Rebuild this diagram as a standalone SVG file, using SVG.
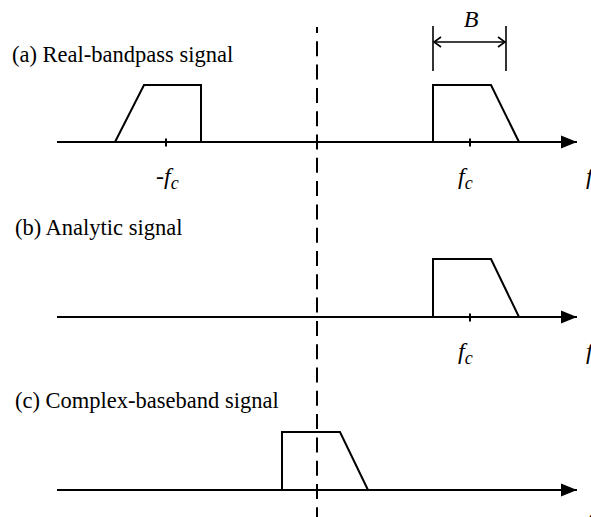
<svg xmlns="http://www.w3.org/2000/svg" width="591" height="517" viewBox="0 0 591 517">
<style>
.t{font-family:"Liberation Serif","Times New Roman",serif;font-size:22.5px;fill:#000}
.i{font-family:"Liberation Serif","Times New Roman",serif;font-style:italic;font-size:24px;fill:#000}
.s{font-size:18px}
.ln{stroke:#000;stroke-width:2;fill:none}
.thin{stroke:#000;stroke-width:1.6;fill:none}
.dash{stroke:#000;stroke-width:2;fill:none;stroke-dasharray:15 8.3;stroke-dashoffset:9}
</style>
<defs>
<marker id="ah" markerWidth="16" markerHeight="14" refX="16" refY="7" orient="auto" markerUnits="userSpaceOnUse">
<path d="M0,0.5 L16,7 L0,13.5 Z" fill="#000"/>
</marker>
<marker id="open" markerWidth="9" markerHeight="12" refX="8" refY="6" orient="auto-start-reverse" markerUnits="userSpaceOnUse">
<path d="M1,1 L8,6 L1,11" fill="none" stroke="#000" stroke-width="1.6"/>
</marker>
</defs>
<g id="connectors">
<line class="dash" x1="317" y1="27" x2="317" y2="517"/>
<line class="ln" x1="57" y1="142" x2="577" y2="142" marker-end="url(#ah)"/>
<line class="ln" x1="57" y1="317" x2="577" y2="317" marker-end="url(#ah)"/>
<line class="ln" x1="57" y1="490" x2="577" y2="490" marker-end="url(#ah)"/>
<line class="ln" x1="166" y1="138.5" x2="166" y2="146.5"/>
<line class="ln" x1="470" y1="138.5" x2="470" y2="146.5"/>
<line class="ln" x1="470" y1="313.5" x2="470" y2="321.5"/>
</g>
<g id="panel-a">
<text class="t" x="12" y="62">(a) Real-bandpass signal</text>
<polyline class="ln" points="115,142 144,85 201,85 201,142"/>
<polyline class="ln" points="433,142 433,85 491,85 519,142"/>
<text class="i" x="156" y="184">-f<tspan class="s" dy="5">c</tspan></text>
<text class="i" x="458" y="184">f<tspan class="s" dy="5">c</tspan></text>
<text class="i" x="586" y="184">f</text>
</g>
<g id="bandwidth">
<line class="thin" x1="433" y1="26" x2="433" y2="71"/>
<line class="thin" x1="506" y1="26" x2="506" y2="71"/>
<line class="thin" x1="434" y1="42" x2="505" y2="42" marker-start="url(#open)" marker-end="url(#open)"/>
<text class="i" x="471" y="27" text-anchor="middle">B</text>
</g>
<g id="panel-b">
<text class="t" x="15" y="235">(b) Analytic signal</text>
<polyline class="ln" points="433,317 433,259 491,259 519,317"/>
<text class="i" x="458" y="359">f<tspan class="s" dy="5">c</tspan></text>
<text class="i" x="586" y="359">f</text>
</g>
<g id="panel-c">
<text class="t" x="15" y="408">(c) Complex-baseband signal</text>
<polyline class="ln" points="282,490 282,432 340,432 368,490"/>
<text class="i" x="586" y="530">f</text>
</g>
</svg>
